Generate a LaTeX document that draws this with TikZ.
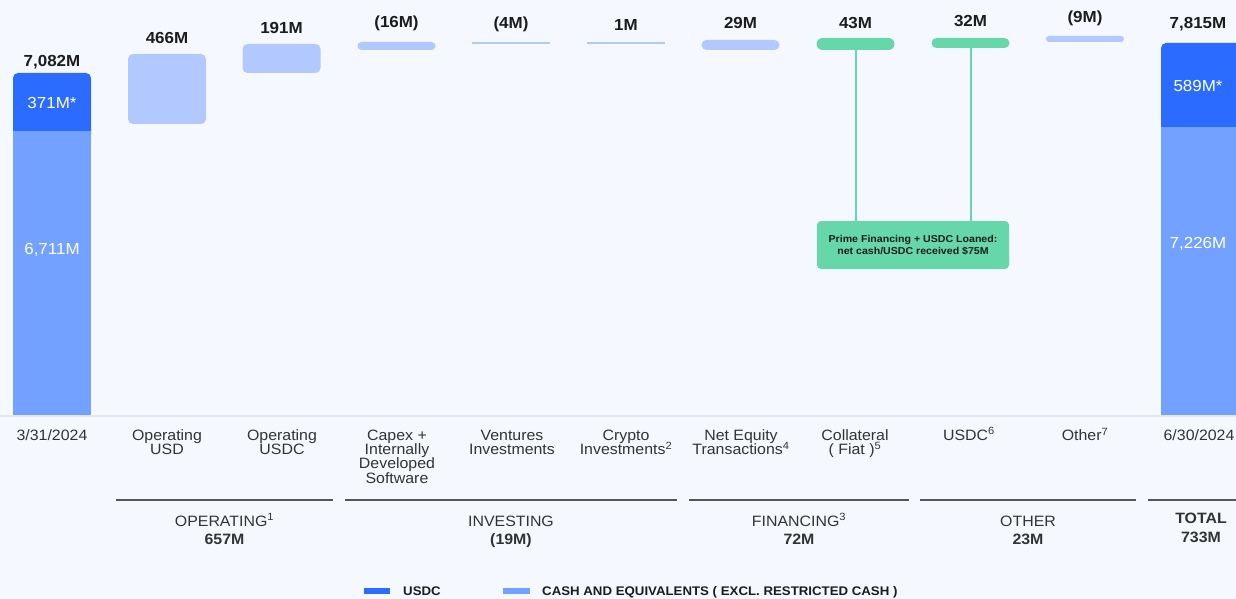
\documentclass[tikz,border=0pt]{standalone}
\usepackage{fontspec}
\setmainfont{Liberation Sans}[FakeStretch=1.06]
\definecolor{bg}{HTML}{F5F8FF}
\definecolor{usdcblue}{HTML}{2B6BFF}
\definecolor{cashblue}{HTML}{72A1FF}
\definecolor{stepblue}{HTML}{B1C9FF}
\definecolor{grn}{HTML}{66D7A8}
\definecolor{txt}{HTML}{1C1C1C}
\definecolor{cattxt}{HTML}{333333}
\definecolor{grpline}{HTML}{555555}
\definecolor{axisgray}{HTML}{E2E6EE}
\newcommand\supnum[1]{\smash{\textsuperscript{#1}}}
\begin{document}
\begin{tikzpicture}[x=1pt,y=-1pt,
  val/.style={font=\fontsize{16}{16}\selectfont\bfseries, text=txt, anchor=base, inner sep=0},
  inval/.style={font=\fontsize{16}{16}\selectfont, text=white, anchor=base, inner sep=0},
  cat/.style={font=\fontsize{15}{14.3}\selectfont, text=cattxt, align=center, anchor=north, inner sep=0},
  grp/.style={font=\fontsize{15}{18}\selectfont, text=cattxt, align=center, anchor=north, inner sep=0},
  grpline/.style={draw=grpline, line width=1.5},
  stepbar/.style={fill=stepblue, inner sep=0, minimum width=78, draw=none},
  grnbar/.style={fill=grn, inner sep=0, minimum width=78, draw=none},
  conn/.style={draw=grn, line width=2},
  legtxt/.style={font=\fontsize{12.5}{12.5}\selectfont\bfseries, text=txt, anchor=base west, inner sep=0}
]
\clip (0,0) rectangle (1236,599);
\fill[bg] (0,0) rectangle (1236,599);

% start bar
\fill[usdcblue, rounded corners=5] (13,73) rectangle (91,140);
\fill[cashblue] (13,131) rectangle (91,415);
% end bar
\fill[usdcblue, rounded corners=5] (1161,43) rectangle (1260,135);
\fill[cashblue] (1161,127) rectangle (1260,415);

% step bars
\node[stepbar, rounded corners=5, minimum height=70] (b2) at (167,89) {};
\node[stepbar, rounded corners=5, minimum height=29] (b3) at (281.5,58.5) {};
\node[stepbar, rounded corners=4, minimum height=8] (b4) at (396.5,46) {};
\node[stepbar, minimum height=2.5] (b5) at (511,43) {};
\node[stepbar, minimum height=2.5] (b6) at (626,43) {};
\node[stepbar, rounded corners=5, minimum height=10] (b7) at (740.5,45) {};
\node[grnbar, rounded corners=6, minimum height=12] (g1) at (855.5,44) {};
\node[grnbar, rounded corners=5, minimum height=10] (g2) at (970.5,43) {};
\node[stepbar, rounded corners=3, minimum height=6] (b10) at (1085,39) {};

% note box
\node[fill=grn, rounded corners=4, minimum width=192, minimum height=48, inner sep=0,
      align=center, text=txt, font=\fontsize{10}{12.5}\selectfont\bfseries] (note) at (913,245)
      {Prime Financing + USDC Loaned:\\net cash/USDC received \$75M};
\draw[conn] (g1.south) -- (g1.south |- note.north);
\draw[conn] (g2.south) -- (g2.south |- note.north);

% axis
\draw[axisgray, line width=2] (0,415.5) -- (1236,415.5);

% top values
\node[val] (v1) at (52,66.7) {7,082M};
\node[val] (v2) at (167,43.7) {466M};
\node[val] (v3) at (281.5,33.7) {191M};
\node[val] (v4) at (396.5,27.7) {(16M)};
\node[val] (v5) at (511,28.7) {(4M)};
\node[val] (v6) at (626,30.7) {1M};
\node[val] (v7) at (740.5,28.7) {29M};
\node[val] (v8) at (855.5,28.7) {43M};
\node[val] (v9) at (970.5,26.7) {32M};
\node[val] (v10) at (1085,22.7) {(9M)};
\node[val] (v11) at (1198,28.7) {7,815M};

% values inside bars
\node[inval] (i1) at (52,108.7) {371M*};
\node[inval] (i2) at (52,254.7) {6,711M};
\node[inval] (i3) at (1198,91.7) {589M*};
\node[inval] (i4) at (1198,248.7) {7,226M};

% category labels
\node[cat] (c1) at (52,429.5) {3/31/2024};
\node[cat] (c2) at (167,429.5) {Operating\\USD};
\node[cat] (c3) at (282,429.5) {Operating\\USDC};
\node[cat] (c4) at (397,429.5) {Capex +\\Internally\\Developed\\Software};
\node[cat] (c5) at (512,429.5) {Ventures\\Investments};
\node[cat] (c6) at (626,429.5) {Crypto\\Investments\supnum{2}};
\node[cat] (c7) at (741,429.5) {Net Equity\\Transactions\supnum{4}};
\node[cat] (c8) at (855,429.5) {Collateral\\( Fiat )\supnum{5}};
\node[cat] (c9) at (969,429.5) {USDC\supnum{6}};
\node[cat] (c10) at (1085,429.5) {Other\supnum{7}};
\node[cat] (c11) at (1199,429.5) {6/30/2024};

% group lines
\draw[grpline] (116,500) -- (333,500);
\draw[grpline] (345,500) -- (677,500);
\draw[grpline] (689,500) -- (909,500);
\draw[grpline] (920,500) -- (1136,500);
\draw[grpline] (1148,500) -- (1260,500);

% group labels
\node[grp] (gr1) at (224.5,515.5) {OPERATING\supnum{1}\\\textbf{657M}};
\node[grp] (gr2) at (511,515.5) {INVESTING\\\textbf{(19M)}};
\node[grp] (gr3) at (799,515.5) {FINANCING\supnum{3}\\\textbf{72M}};
\node[grp] (gr4) at (1028,515.5) {OTHER\\\textbf{23M}};
\node[grp, font=\fontsize{15}{19}\selectfont\bfseries] (gr5) at (1201,512.5) {TOTAL\\733M};

% legend
\fill[usdcblue] (364,588) rectangle (390,594);
\node[legtxt] (l1) at (403,595.3) {USDC};
\fill[cashblue] (503,588) rectangle (530,594);
\node[legtxt] (l2) at (542,595.3) {CASH AND EQUIVALENTS ( EXCL. RESTRICTED CASH )};
\end{tikzpicture}
\end{document}
